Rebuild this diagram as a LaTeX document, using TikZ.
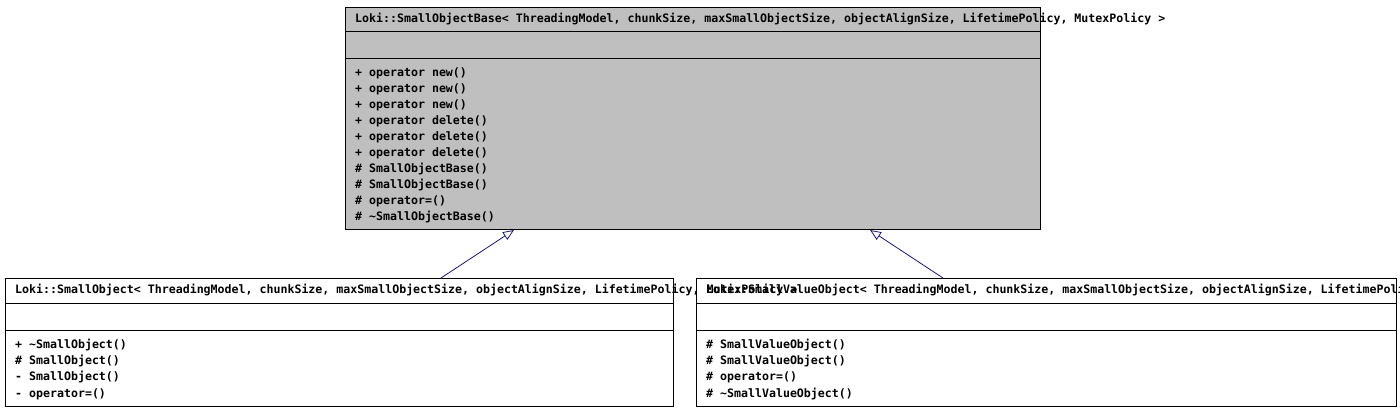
\documentclass[tikz,border=0pt]{standalone}
\usepackage{fontspec}
\newfontfamily\umlfont{DejaVu Sans Mono}
\usetikzlibrary{arrows.meta,calc}
\definecolor{umlgray}{HTML}{BFBFBF}
\definecolor{edgeblue}{HTML}{191970}
\tikzset{
  umlbox/.style={draw=black, line width=1pt, anchor=north west, inner sep=0pt, minimum width=#1},
  umltxt/.style={anchor=base west, inner sep=0pt, font=\umlfont\fontsize{11.6}{16}\selectfont\bfseries},
  inherit/.style={draw=edgeblue, line width=0.8pt, -{Triangle[open, length=11pt, width=9pt, fill=white]}},
}
\begin{document}
\begin{tikzpicture}[x=1pt,y=-1pt]
\useasboundingbox (0,0) rectangle (1400,411);
\clip (0,0) rectangle (1400,411);
% base class
\node[umlbox=695pt, minimum height=222pt, fill=umlgray] (base) at (345,7) {};
\draw[line width=1pt] (345,32) -- (1040,32) (345,59) -- (1040,59);
\node[umltxt] (baset) at (355,23) {Loki::SmallObjectBase< ThreadingModel, chunkSize, maxSmallObjectSize, objectAlignSize, LifetimePolicy, MutexPolicy >};
\node[umltxt] (b1) at (355,77) {+ operator new()};
\node[umltxt] (b2) at (355,93) {+ operator new()};
\node[umltxt] (b3) at (355,109) {+ operator new()};
\node[umltxt] (b4) at (355,125) {+ operator delete()};
\node[umltxt] (b5) at (355,141) {+ operator delete()};
\node[umltxt] (b6) at (355,157) {+ operator delete()};
\node[umltxt] (b7) at (355,173) {\# SmallObjectBase()};
\node[umltxt] (b8) at (355,189) {\# SmallObjectBase()};
\node[umltxt] (b9) at (355,205) {\# operator=()};
\node[umltxt] (b10) at (355,221) {\# \textasciitilde SmallObjectBase()};
% SmallObject
\node[umlbox=668pt, minimum height=128pt, fill=white] (sobj) at (5,278) {};
\draw[line width=1pt] (5,304) -- (673,304) (5,331) -- (673,331);
% SmallValueObject
\node[umlbox=700pt, minimum height=128pt, fill=white] (svobj) at (696,278) {};
\draw[line width=1pt] (696,304) -- (1396,304) (696,331) -- (1396,331);
\node[umltxt] (st) at (15,294) {Loki::SmallObject< ThreadingModel, chunkSize, maxSmallObjectSize, objectAlignSize, LifetimePolicy, MutexPolicy >};
\node[umltxt] (s1) at (15,349) {+ \textasciitilde SmallObject()};
\node[umltxt] (s2) at (15,365) {\# SmallObject()};
\node[umltxt] (s3) at (15,381) {- SmallObject()};
\node[umltxt] (s4) at (15,397) {- operator=()};
\node[umltxt] (vt) at (706,294) {Loki::SmallValueObject< ThreadingModel, chunkSize, maxSmallObjectSize, objectAlignSize, LifetimePolicy, MutexPolicy >};
\node[umltxt] (v1) at (706,349) {\# SmallValueObject()};
\node[umltxt] (v2) at (706,365) {\# SmallValueObject()};
\node[umltxt] (v3) at (706,381) {\# operator=()};
\node[umltxt] (v4) at (706,397) {\# \textasciitilde SmallValueObject()};
% connectors
\coordinate (baseL) at ($(base.south west)+(169,0)$);
\coordinate (baseR) at ($(base.south west)+(525,0)$);
\coordinate (sobjT) at ($(sobj.north west)+(436,0)$);
\coordinate (svobjT) at ($(svobj.north west)+(247,0)$);
\draw[inherit] (sobjT) -- (baseL);
\draw[inherit] (svobjT) -- (baseR);
\end{tikzpicture}
\end{document}
